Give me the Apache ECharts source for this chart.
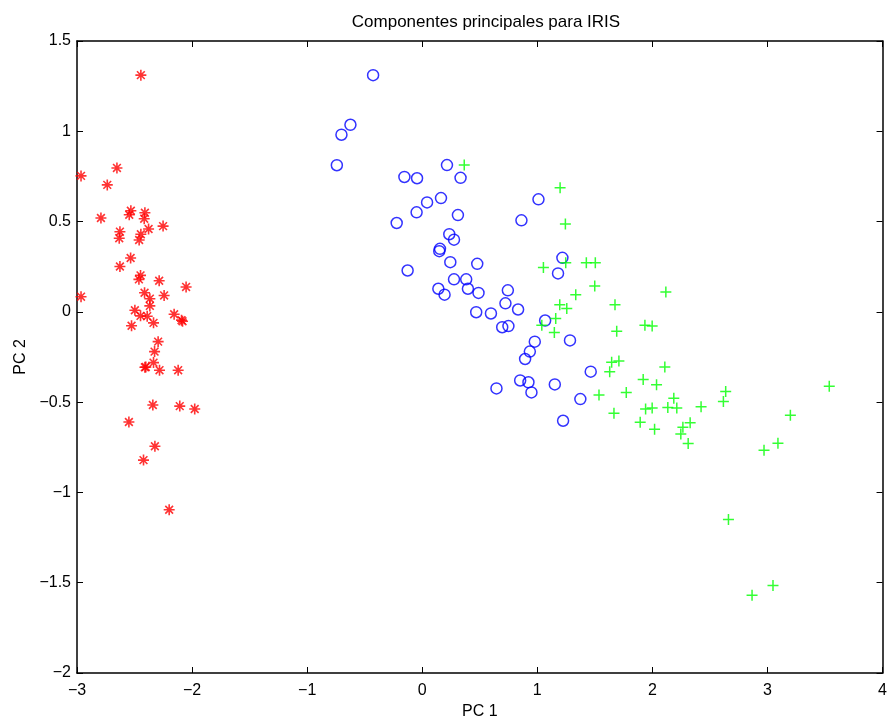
<!DOCTYPE html>
<html>
<head>
<meta charset="utf-8">
<script src="https://cdn.jsdelivr.net/npm/echarts@6/dist/echarts.min.js"></script>
<style>
  html, body { margin: 0; padding: 0; background: #fff; }
  #main { width: 890px; height: 725px; }
</style>
</head>
<body>
<div id="main"></div>
<script>
// PC1 / PC2 puntos
var setosaX = [-2.445, -2.965, -2.653, -2.737, -2.792, -2.532, -2.546, -2.410, -2.416, -2.252,
  -2.378, -2.627, -2.633, -2.445, -2.460, -2.534, -2.627, -2.448, -2.462, -2.286,
  -2.052, -2.413, -2.367, -2.243, -2.965, -2.367, -2.497, -2.448, -2.390, -2.335,
  -2.156, -2.092, -2.083, -2.526, -2.295, -2.326, -2.335, -2.410, -2.402, -2.283,
  -2.121, -2.341, -2.107, -1.977, -2.549, -2.323, -2.422, -2.199];
var setosaY = [1.311, 0.753, 0.797, 0.703, 0.520, 0.560, 0.538, 0.549, 0.516, 0.475,
  0.459, 0.444, 0.408, 0.430, 0.398, 0.298, 0.251, 0.202, 0.180, 0.172,
  0.138, 0.106, 0.073, 0.091, 0.084, 0.033, 0.009, -0.022, -0.024, -0.061,
  -0.013, -0.046, -0.052, -0.077, -0.165, -0.220, -0.281, -0.307, -0.305, -0.323,
  -0.323, -0.516, -0.522, -0.538, -0.610, -0.744, -0.821, -1.096];

var versicolorX = [-0.427, -0.624, -0.702, -0.742, 0.215, -0.155, -0.045, 0.333, 0.163, 0.042,
  1.010, -0.049, -0.222, 0.310, 0.862, 0.235, 0.276, 0.154, 0.148, 0.244,
  0.478, -0.127, 0.276, 0.382, 0.140, 0.397, 0.194, 0.489, 0.744, 0.723,
  0.833, 0.469, 0.597, 0.695, 0.749, 1.068, 1.218, 1.180, 0.978, 0.935,
  0.894, 1.284, 1.464, 0.851, 0.923, 0.949, 0.645, 1.152, 1.374, 1.224];
var versicolorY = [1.311, 1.036, 0.981, 0.812, 0.813, 0.747, 0.740, 0.742, 0.630, 0.606,
  0.623, 0.551, 0.492, 0.536, 0.507, 0.430, 0.400, 0.349, 0.336, 0.275,
  0.266, 0.229, 0.180, 0.180, 0.128, 0.128, 0.095, 0.105, 0.119, 0.047,
  0.013, -0.002, -0.009, -0.085, -0.079, -0.048, 0.299, 0.213, -0.165, -0.220,
  -0.261, -0.158, -0.331, -0.380, -0.390, -0.446, -0.424, -0.402, -0.483, -0.603];

var virginicaX = [0.365, 1.198, 1.244, 1.053, 1.247, 1.426, 1.504, 1.499, 1.334, 1.195,
  1.256, 1.675, 1.160, 1.039, 1.148, 1.690, 1.646, 1.709, 1.629, 1.536,
  1.773, 1.666, 2.117, 1.935, 1.998, 2.108, 1.920, 2.036, 2.186, 2.637,
  2.617, 3.537, 1.941, 1.998, 2.134, 2.212, 2.423, 1.894, 2.019, 2.328,
  2.265, 2.247, 2.311, 3.199, 3.091, 2.970, 2.661, 3.048, 2.866];
var virginicaY = [0.813, 0.687, 0.487, 0.246, 0.272, 0.272, 0.272, 0.143, 0.095, 0.040,
  0.018, 0.040, -0.037, -0.074, -0.114, -0.107, -0.279, -0.272, -0.331, -0.461,
  -0.446, -0.562, 0.110, -0.074, -0.079, -0.305, -0.375, -0.404, -0.479, -0.441,
  -0.496, -0.412, -0.538, -0.533, -0.529, -0.533, -0.526, -0.612, -0.650, -0.614,
  -0.639, -0.676, -0.729, -0.573, -0.727, -0.766, -1.150, -1.515, -1.570];

var xTicks = [-3, 4, 1];
var yTicks = [-2, 1.5, 0.5];

var FONT = '"Liberation Sans", Arial, sans-serif';

function pares(xs, ys) {
  var temp = [];
  for (var i = 0; i < xs.length; i++) {
    temp.push([xs[i], ys[i]]);
  }
  return temp;
}

function fmt(v) {
  return String(v).replace('-', '\u2212');
}

var estrella = 'path://M0,6L12,6M6,0L6,12M1.76,1.76L10.24,10.24M10.24,1.76L1.76,10.24';
var mas = 'path://M6,0L6,12M0,6L12,6';

function ejeX(pos, show) {
  return {
    type: 'value', position: pos, min: xTicks[0], max: xTicks[1], interval: xTicks[2],
    axisLine: { show: true, onZero: false, lineStyle: { color: '#000', width: 1.5 } },
    axisTick: { show: true, inside: true, length: 6, lineStyle: { color: '#000', width: 1 } },
    axisLabel: { show: show, color: '#000', fontSize: 16, fontFamily: FONT, margin: 10, formatter: fmt },
    splitLine: { show: false }
  };
}

function ejeY(pos, show) {
  return {
    type: 'value', position: pos, min: yTicks[0], max: yTicks[1], interval: yTicks[2],
    axisLine: { show: true, onZero: false, lineStyle: { color: '#000', width: 1.5 } },
    axisTick: { show: true, inside: true, length: 6, lineStyle: { color: '#000', width: 1 } },
    axisLabel: { show: show, color: '#000', fontSize: 16, fontFamily: FONT, margin: 6, formatter: fmt },
    splitLine: { show: false }
  };
}

var chart = echarts.init(document.getElementById('main'));

var xa = ejeX('bottom', true);
xa.name = 'PC 1';
xa.nameLocation = 'middle';
xa.nameGap = 31;
xa.nameTextStyle = { color: '#000', fontSize: 16, fontFamily: FONT };

var ya = ejeY('left', true);
ya.name = 'PC 2';
ya.nameLocation = 'middle';
ya.nameGap = 44;
ya.nameTextStyle = { color: '#000', fontSize: 16, fontFamily: FONT };

var option = {
  backgroundColor: '#fff',
  animation: false,
  title: {
    text: 'Componentes principales para IRIS',
    left: 481,
    textAlign: 'center',
    top: 9,
    textStyle: { color: '#000', fontSize: 17, fontWeight: 'normal', fontFamily: FONT }
  },
  grid: { left: 77, right: 6, top: 41, bottom: 48 },
  xAxis: [xa, ejeX('top', false)],
  yAxis: [ya, ejeY('right', false)],
  series: [
    {
      type: 'scatter', name: 'setosa', data: pares(setosaX, setosaY),
      symbol: estrella, symbolSize: 11,
      itemStyle: { color: 'transparent', borderColor: '#ff0000', borderWidth: 1.6 }
    },
    {
      type: 'scatter', name: 'versicolor', data: pares(versicolorX, versicolorY),
      symbol: 'circle', symbolSize: 11,
      itemStyle: { color: 'transparent', borderColor: '#0000ff', borderWidth: 1.5 }
    },
    {
      type: 'scatter', name: 'virginica', data: pares(virginicaX, virginicaY),
      symbol: mas, symbolSize: 11,
      itemStyle: { color: 'transparent', borderColor: '#00ff00', borderWidth: 1.5 }
    }
  ]
};

chart.setOption(option);
</script>
</body>
</html>
